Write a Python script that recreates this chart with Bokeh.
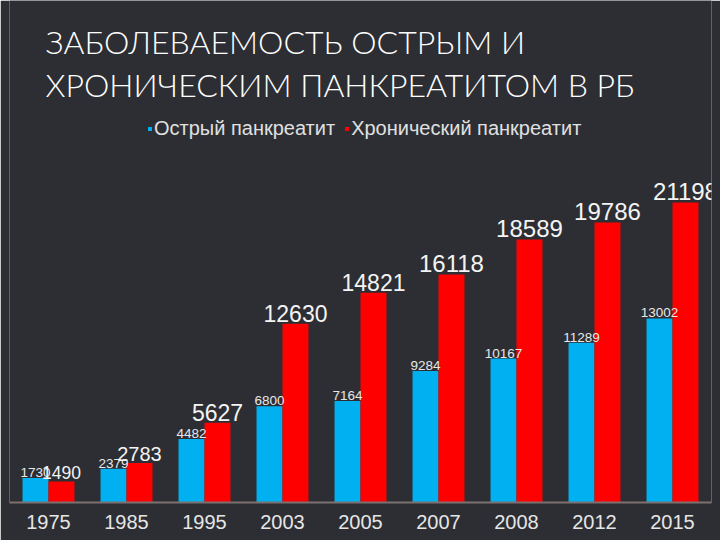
from bokeh.plotting import figure
from bokeh.models import ColumnDataSource, FactorRange, Range1d, Label, Legend, LegendItem
from bokeh.transform import dodge
from bokeh.core.properties import value
from bokeh.embed import file_html
from bokeh.resources import INLINE

years = ["1975", "1985", "1995", "2003", "2005", "2007", "2008", "2012", "2015"]
acute = [1730, 2379, 4482, 6800, 7164, 9284, 10167, 11289, 13002]
chronic = [1490, 2783, 5627, 12630, 14821, 16118, 18589, 19786, 21198]
series_names = ["Острый панкреатит", "Хронический панкреатит"]
title_lines = ["ЗАБОЛЕВАЕМОСТЬ ОСТРЫМ И", "ХРОНИЧЕСКИМ ПАНКРЕАТИТОМ В РБ"]

BLUE = "#00b0f0"
RED = "#ff0000"
BG = "#2c2e33"

red_sizes = ["17.5px", "20px", "23px", "23px", "23px", "24px", "24px", "24px", "24px"]

src = ColumnDataSource(dict(
    year=years,
    acute=acute,
    chronic=chronic,
    acute_lbl=[str(v) for v in acute],
    chronic_lbl=[str(v) for v in chronic],
    red_size=red_sizes,
))

p = figure(width=720, height=540, output_backend="svg", toolbar_location=None,
           x_range=FactorRange(factors=years, range_padding=0),
           y_range=Range1d(0, 35471),
           min_border_left=9, min_border_right=9, min_border_top=0, min_border_bottom=38,
           background_fill_color=BG, border_fill_color=BG, outline_line_color=None)

bw = 0.333
rb = p.vbar(x=dodge("year", -bw / 2, range=p.x_range), top="acute", width=bw, source=src,
            fill_color=BLUE, line_color=None)
rr = p.vbar(x=dodge("year", bw / 2, range=p.x_range), top="chronic", width=bw, source=src,
            fill_color=RED, line_color=None)

p.text(x=dodge("year", -bw / 2, range=p.x_range), y="acute", text="acute_lbl", source=src,
       text_align="center", text_baseline="bottom", y_offset=-1,
       text_font=value("Liberation Sans"), text_font_size="13.5px", text_color="#e8e8e8")
p.text(x=dodge("year", bw / 2, range=p.x_range), y="chronic", text="chronic_lbl", source=src,
       text_align="center", text_baseline="bottom", y_offset=-2,
       text_font=value("Liberation Sans"), text_font_size="red_size", text_color="#f4f4f4")

p.yaxis.visible = False
p.grid.visible = False
ax = p.xaxis[0]
ax.axis_line_color = "#7d7070"
ax.axis_line_width = 2
ax.major_tick_line_color = None
ax.minor_tick_line_color = None
ax.major_label_standoff = 6
ax.major_label_text_font = "Liberation Sans"
ax.major_label_text_font_size = "20px"
ax.major_label_text_color = "#e6e6e6"

legend = Legend(items=[LegendItem(label=series_names[0], renderers=[rb]),
                       LegendItem(label=series_names[1], renderers=[rr])],
                orientation="horizontal", location=(138, 362),
                glyph_width=5, glyph_height=5, label_standoff=2, spacing=9,
                padding=0, margin=0, background_fill_alpha=0, border_line_color=None,
                label_text_font="Liberation Sans", label_text_font_size="20px",
                label_text_color="#e0e0e0")
p.add_layout(legend)

for i, t in enumerate(title_lines):
    p.add_layout(Label(x=36, y=461 - i * 43, x_units="screen", y_units="screen", text=t,
                       text_font="Lato Light", text_font_size="32px", text_color="#ffffff",
                       text_baseline="alphabetic"))

open("out.html", "w").write(file_html(p, INLINE))
